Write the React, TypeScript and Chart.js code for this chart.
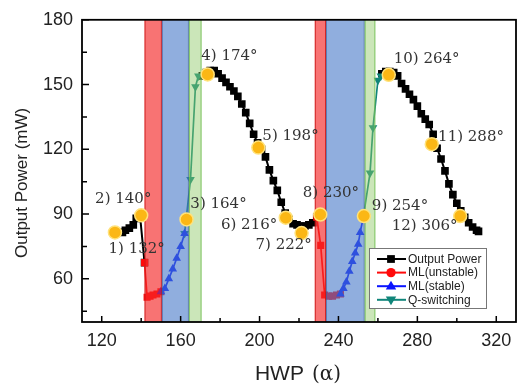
import React, { useEffect, useRef } from 'react';
import { Chart, registerables } from 'chart.js';

Chart.register(...registerables);

// ---------- data ----------
const outputAngles1 = [130.5, 132, 134, 136, 137.5, 139.5, 141.7];
const outputPower1 = [81.5, 82.5, 83.5, 85, 88, 88.5, 67.5];
const outputAngles2 = [171, 173, 175, 177, 179, 181, 183, 185, 187, 189, 191, 193, 195, 197, 199, 201, 203, 205, 207, 209, 211, 213, 215, 217, 219, 221, 223, 225, 227, 229];
const outputPower2 = [154, 155.5, 156.5, 156.5, 155, 153, 151, 149, 147, 144.5, 141, 137, 132, 127, 123, 120, 116.5, 110.5, 105.5, 101, 95.5, 90.5, 87.5, 85.5, 85, 84.5, 84.5, 85, 86, 88.5];
const outputAngles3 = [262, 264, 266, 268, 270, 272, 274, 276, 278, 280, 282, 284, 286, 288, 290, 292, 294, 296, 298, 300, 302, 304, 306, 308, 310, 311];
const outputPower3 = [155, 156, 156, 155.5, 154, 150.5, 148, 145.5, 143, 140, 136.5, 134, 131.5, 127, 120.5, 115.5, 110, 104, 99, 95, 91.5, 88.5, 86, 84, 82.5, 82];

const unstableAngles1 = [141.7, 143, 144.5, 146, 148, 150];
const unstablePower1 = [67.5, 51.5, 52, 52.5, 53, 54];
const unstableAngles2 = [229, 231, 233, 235, 237, 239, 241];
const unstablePower2 = [88.5, 75.5, 52.5, 52, 52, 52.5, 53];

const stableAngles1 = [150, 152, 154, 156, 158, 160, 162];
const stablePower1 = [54, 55.5, 60, 64.5, 69.5, 75, 81];
const stableAngles2 = [241, 242.5, 244, 245.5, 247, 248.5, 250, 251, 252.5];
const stablePower2 = [53, 55.5, 58.5, 63.5, 68, 72, 76, 81.5, 88];

const qsAngles1 = [162, 165, 167.5, 169];
const qsPower1 = [81, 106, 149, 154];
const qsAngles2 = [252.5, 256, 257.5, 260, 261.5];
const qsPower2 = [88, 109, 130, 152, 154];

const markAngles = [126.7, 140, 163, 173.7, 199.4, 213.3, 221.3, 230.8, 252.9, 265.5, 287.3, 301.7];
const markPower = [81.5, 89.4, 87.5, 154.7, 120.8, 88.3, 81.2, 89.8, 89.1, 154.5, 122.4, 89.1];
const markLabels = ['1) 132°', '2) 140°', '3) 164°', '4) 174°', '5) 198°', '6) 216°', '7) 222°', '8) 230°', '9) 254°', '10) 264°', '11) 288°', '12) 306°'];
const labelAngles = [137.7, 130.9, 179.2, 184.7, 215.7, 194.7, 212.2, 236.2, 271.2, 284.7, 307.2, 283.7];
const labelPower = [73.9, 97, 94.4, 163.3, 126.2, 85.1, 75.5, 99.7, 93.9, 161.8, 125.5, 84.5];

const unstableBandStart = [141.7, 228];
const unstableBandEnd = [150.5, 233.7];
const stableBandStart = [150.5, 233.7];
const stableBandEnd = [164.2, 253.3];
const qsBandStart = [164.2, 253.3];
const qsBandEnd = [170.6, 258.7];

const xTicks = [120, 160, 200, 240, 280, 320];
const xMinorTicks = [140, 180, 220, 260, 300];
const yTicks = [60, 90, 120, 150, 180];
const yMinorTicks = [45, 75, 105, 135, 165];

const seriesNames = ['Output Power', 'ML(unstable)', 'ML(stable)', 'Q-switching'];
const xTitle = 'HWP';
const xTitleSymbol = '(α)';
const yTitle = 'Output Power (mW)';

// ---------- helpers ----------
type Pt = { x: number; y: number | null };
function joinSegments(segs: [number[], number[]][]): Pt[] {
  const out: Pt[] = [];
  segs.forEach(([xs, ys], i) => {
    if (i > 0) out.push({ x: (xs[0] + (out[out.length - 1].x as number)) / 2, y: null });
    xs.forEach((x, j) => out.push({ x, y: ys[j] }));
  });
  return out;
}

const BLACK = '#000000';
const RED = '#ff0a0a';
const BLUE = '#0a14ff';
const TEAL = '#10857a';
const SANS = "'Liberation Sans', Arial, sans-serif";
const SERIF = "'DejaVu Serif', serif";

function drawMarker(ctx: CanvasRenderingContext2D, style: string, x: number, y: number, r: number, color: string) {
  ctx.fillStyle = color;
  ctx.beginPath();
  if (style === 'rect') {
    const s = r * Math.SQRT1_2;
    ctx.rect(x - s, y - s, 2 * s, 2 * s);
  } else if (style === 'circle') {
    ctx.arc(x, y, r * 0.85, 0, Math.PI * 2);
  } else if (style === 'triangle') {
    ctx.moveTo(x, y - r);
    ctx.lineTo(x + r * 0.95, y + r * 0.6);
    ctx.lineTo(x - r * 0.95, y + r * 0.6);
    ctx.closePath();
  } else {
    ctx.moveTo(x, y + r);
    ctx.lineTo(x + r * 0.95, y - r * 0.6);
    ctx.lineTo(x - r * 0.95, y - r * 0.6);
    ctx.closePath();
  }
  ctx.fill();
}

const overlayPlugin = {
  id: 'overlay',
  beforeDatasetDraw(chart: any, args: any) {
    if (args.index !== 0) return;
    const { ctx, chartArea: a, scales } = chart;
    const xs = scales.x;
    const h = a.bottom - a.top;
    const fillBand = (s: number[], e: number[], fill: string, edge: string) => {
      s.forEach((v, i) => {
        const x0 = xs.getPixelForValue(v);
        const x1 = xs.getPixelForValue(e[i]);
        ctx.fillStyle = fill;
        ctx.fillRect(x0, a.top, x1 - x0, h);
        ctx.strokeStyle = edge;
        ctx.lineWidth = 1;
        ctx.beginPath();
        ctx.moveTo(x0 + 0.5, a.top);
        ctx.lineTo(x0 + 0.5, a.bottom);
        ctx.moveTo(x1 - 0.5, a.top);
        ctx.lineTo(x1 - 0.5, a.bottom);
        ctx.stroke();
      });
    };
    ctx.save();
    fillBand(unstableBandStart, unstableBandEnd, 'rgba(245,40,40,0.65)', 'rgba(200,20,20,0.8)');
    fillBand(stableBandStart, stableBandEnd, 'rgba(70,120,200,0.6)', 'rgba(60,90,150,0.6)');
    fillBand(qsBandStart, qsBandEnd, 'rgba(140,200,100,0.45)', 'rgba(110,190,80,0.8)');
    ctx.restore();
  },
  afterDatasetsDraw(chart: any) {
    const { ctx, chartArea: a, scales } = chart;
    const xs = scales.x;
    const ys = scales.y;
    ctx.save();
    // frame
    ctx.strokeStyle = '#000';
    ctx.lineWidth = 1.8;
    ctx.strokeRect(a.left, a.top, a.right - a.left, a.bottom - a.top);
    // inward ticks
    ctx.lineWidth = 1.5;
    ctx.beginPath();
    xTicks.forEach((v) => {
      const p = xs.getPixelForValue(v);
      ctx.moveTo(p, a.bottom);
      ctx.lineTo(p, a.bottom - 6);
    });
    xMinorTicks.forEach((v) => {
      const p = xs.getPixelForValue(v);
      ctx.moveTo(p, a.bottom);
      ctx.lineTo(p, a.bottom - 4);
    });
    yTicks.forEach((v) => {
      const p = ys.getPixelForValue(v);
      ctx.moveTo(a.left, p);
      ctx.lineTo(a.left + 7, p);
    });
    yMinorTicks.forEach((v) => {
      const p = ys.getPixelForValue(v);
      ctx.moveTo(a.left, p);
      ctx.lineTo(a.left + 5, p);
    });
    ctx.stroke();
    // annotation labels
    ctx.font = `15px ${SERIF}`;
    ctx.fillStyle = '#333';
    ctx.textAlign = 'center';
    ctx.textBaseline = 'middle';
    markLabels.forEach((t, i) => {
      ctx.fillText(t, xs.getPixelForValue(labelAngles[i]), ys.getPixelForValue(labelPower[i]));
    });
    ctx.restore();
  },
  afterDraw(chart: any) {
    const { ctx, chartArea: a } = chart;
    ctx.save();
    // legend
    const right = a.right - 30;
    const bottom = a.bottom - 14;
    const w = 117;
    const hgt = 60;
    const left = right - w;
    const top = bottom - hgt;
    ctx.fillStyle = '#fff';
    ctx.fillRect(left, top, w, hgt);
    ctx.strokeStyle = '#777';
    ctx.lineWidth = 1;
    ctx.strokeRect(left + 0.5, top + 0.5, w, hgt);
    const colors = [BLACK, RED, BLUE, TEAL];
    const styles = ['rect', 'circle', 'triangle', 'triangleDown'];
    ctx.font = `12px ${SANS}`;
    ctx.textAlign = 'left';
    ctx.textBaseline = 'middle';
    seriesNames.forEach((name, i) => {
      const y = top + 11 + i * 13.6;
      ctx.strokeStyle = colors[i];
      ctx.lineWidth = 2;
      ctx.beginPath();
      ctx.moveTo(left + 8, y);
      ctx.lineTo(left + 37, y);
      ctx.stroke();
      drawMarker(ctx, styles[i], left + 22, y, 5.5, colors[i]);
      ctx.fillStyle = '#222';
      ctx.fillText(name, left + 39, y + 0.5);
    });
    // axis titles
    ctx.fillStyle = '#222';
    ctx.textBaseline = 'alphabetic';
    ctx.font = `21px ${SANS}`;
    const w1 = ctx.measureText(xTitle).width;
    ctx.font = `20px ${SERIF}`;
    const w2 = ctx.measureText(xTitleSymbol).width;
    const gap = 8;
    const cx = (a.left + a.right) / 2 - 1;
    const startX = cx - (w1 + gap + w2) / 2;
    ctx.textAlign = 'left';
    ctx.font = `21px ${SANS}`;
    ctx.fillText(xTitle, startX, 380);
    ctx.font = `20px ${SERIF}`;
    ctx.fillText(xTitleSymbol, startX + w1 + gap, 380);
    ctx.translate(27, (a.top + a.bottom) / 2 + 12);
    ctx.rotate(-Math.PI / 2);
    ctx.textAlign = 'center';
    ctx.font = `17px ${SANS}`;
    ctx.fillText(yTitle, 0, 0);
    ctx.restore();
  },
};

export default function App() {
  const ref = useRef<HTMLCanvasElement | null>(null);
  useEffect(() => {
    if (!ref.current) return;
    const lineBase = {
      borderWidth: 1.7,
      pointRadius: 5,
      pointBorderWidth: 0,
      spanGaps: false,
      tension: 0,
    };
    const chart = new Chart(ref.current, {
      type: 'line',
      data: {
        datasets: [
          {
            label: 'marks',
            data: joinSegments([[markAngles, markPower]]),
            showLine: false,
            pointRadius: 6.5,
            pointStyle: 'circle',
            pointBackgroundColor: '#fbb715',
            pointBorderColor: '#ffe27a',
            pointBorderWidth: 1.5,
          },
          {
            ...lineBase,
            label: seriesNames[2],
            data: joinSegments([[stableAngles1, stablePower1], [stableAngles2, stablePower2]]),
            borderColor: BLUE,
            pointBackgroundColor: BLUE,
            pointStyle: 'triangle',
          },
          {
            ...lineBase,
            label: seriesNames[1],
            data: joinSegments([[unstableAngles1, unstablePower1], [unstableAngles2, unstablePower2]]),
            borderColor: RED,
            pointBackgroundColor: RED,
            pointStyle: 'rect',
          },
          {
            ...lineBase,
            label: seriesNames[3],
            data: joinSegments([[qsAngles1, qsPower1], [qsAngles2, qsPower2]]),
            borderColor: TEAL,
            pointBackgroundColor: TEAL,
            pointStyle: 'triangle',
            pointRotation: 180,
          },
          {
            ...lineBase,
            label: seriesNames[0],
            data: joinSegments([[outputAngles1, outputPower1], [outputAngles2, outputPower2], [outputAngles3, outputPower3]]),
            borderColor: BLACK,
            borderWidth: 2,
            pointRadius: 5.4,
            pointBackgroundColor: BLACK,
            pointStyle: 'rect',
          },
        ] as any,
      },
      options: {
        responsive: false,
        animation: false,
        devicePixelRatio: 1,
        layout: { padding: { top: 13, right: 2, left: 0, bottom: 0 } },
        plugins: { legend: { display: false }, tooltip: { enabled: false } },
        scales: {
          x: {
            type: 'linear',
            min: 110,
            max: 330,
            afterBuildTicks: (s: any) => {
              s.ticks = xTicks.map((v) => ({ value: v }));
            },
            afterFit: (s: any) => {
              s.height = 64;
            },
            grid: { display: false, drawTicks: false },
            border: { display: false },
            ticks: {
              font: { family: SANS, size: 18 },
              color: '#222',
              padding: 8,
              maxRotation: 0,
              autoSkip: false,
            },
          },
          y: {
            type: 'linear',
            min: 40,
            max: 180,
            afterBuildTicks: (s: any) => {
              s.ticks = yTicks.map((v) => ({ value: v }));
            },
            afterFit: (s: any) => {
              s.width = 82;
            },
            grid: { display: false, drawTicks: false },
            border: { display: false },
            ticks: {
              font: { family: SANS, size: 18 },
              color: '#222',
              padding: 9,
              autoSkip: false,
            },
          },
        },
      } as any,
      plugins: [overlayPlugin],
    });
    return () => chart.destroy();
  }, []);
  return (
    <div style={{ position: 'absolute', left: 0, top: 0, width: 520, height: 386, overflow: 'hidden', background: '#fff' }}>
      <canvas ref={ref} width={524} height={386} style={{ display: 'block', width: 524, height: 386 }} />
    </div>
  );
}
